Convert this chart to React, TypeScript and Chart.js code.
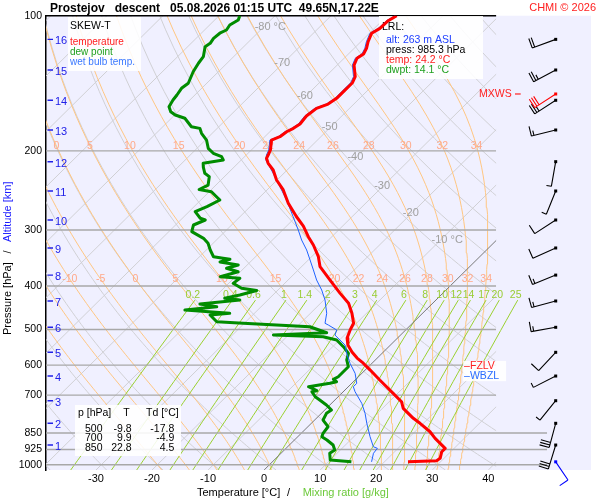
import React, { useEffect, useRef } from "react";
import { Chart, registerables } from "chart.js";

Chart.register(...registerables);

// ---------------- diagram constants ----------------
const FONT = "'Liberation Sans', Arial, Helvetica, sans-serif";
const P_MIN = 100;
const P_MAX = 1027.5;
const SKEW = 81; // degC of shift per decade of pressure
const X_MIN = -38.92;
const X_MAX = 58.33;
const X_RIGHT_EDGE = 41.4; // right boundary of the skewed diagram (degC at bottom)
const X_RIGHT_LOW = 50.5; // longer pressure lines near the ground

const PRESSURE_TICKS = [100, 200, 300, 400, 500, 600, 700, 850, 925, 1000];
const LONG_PRESSURE_LINES = [850, 925, 1000];
const TEMP_TICKS = [-30, -20, -10, 0, 10, 20, 30, 40];

const ISOTHERMS = [-120, -110, -100, -90, -80, -70, -60, -50, -40, -30, -20, -10, 0, 10, 20, 30, 40];
const ISOTHERM_LABEL_T = [-80, -70, -60, -50, -40, -30, -20, -10];
const ISOTHERM_LABEL_P = [106.0, 127.5, 151.0, 177.0, 206.4, 239.5, 275.1, 316.0];
const DRY_ADIABATS = [-40, -30, -20, -10, 0, 10, 20, 30, 40, 50, 60, 70, 80, 90, 100, 110, 120, 130, 140, 150, 160, 170];
const MOIST_ADIABATS = [-20, -15, -10, -5, 0, 5, 10, 15, 20, 22, 24, 26, 28, 30, 32, 34];
const MOIST_LABELS_UPPER = [0, 5, 10, 15, 20, 22, 24, 26, 28, 30, 32, 34];
const MOIST_LABELS_LOWER = [-10, -5, 0, 5, 10, 15, 20, 22, 24, 26, 28, 30, 32, 34];
const MOIST_LABEL_P_UPPER = 195;
const MOIST_LABEL_P_LOWER = 386;
const MIXING_RATIOS = [0.2, 0.4, 0.6, 1, 1.4, 2, 3, 4, 6, 8, 10, 12, 14, 17, 20, 25];
const MIXING_TOP_P = 430;
const MIXING_LABEL_P = 418;

// ---------------- sounding data ----------------
const TEMP_P = [100, 102.6, 106.7, 109.4, 114.3, 118.2, 121.7, 124.4, 128.8, 136.7, 141.0, 147.6, 152.8, 157.3, 160.8, 167.3, 174.3, 178.2, 181.3, 186.0, 189.2, 199.1, 204.3, 207.8, 213.2, 220.6, 232.2, 244.4, 261.7, 280.4, 294.1, 310.6, 324.1, 344.1, 362.2, 387.9, 415.3, 437.0, 460.0, 484.2, 501.2, 522.2, 541.3, 561.1, 578.7, 590.7, 615.5, 647.7, 664.5, 693.4, 723.9, 748.9, 788.3, 808.7, 844.4, 873.4, 919.4, 935.5, 967.7, 979.7, 985.3];
const TEMP_T = [-58.3, -58.9, -59.0, -59.6, -58.7, -57.8, -57.3, -57.7, -57.0, -54.7, -54.1, -54.1, -54.1, -54.6, -55.9, -56.3, -56.0, -56.4, -57.0, -57.3, -58.2, -56.6, -56.1, -55.8, -54.6, -52.5, -50.1, -47.1, -43.8, -39.9, -37.0, -34.2, -31.8, -28.8, -26.7, -22.5, -18.3, -15.0, -12.6, -10.5, -9.9, -9.0, -7.6, -5.6, -3.6, -2.0, 0.9, 4.4, 6.2, 9.2, 12.2, 13.7, 17.3, 19.4, 22.7, 24.8, 28.4, 28.4, 29.3, 29.1, 24.2];

const WB_P = [100, 102.6, 106.7, 109.4, 114.3, 118.2, 121.7, 124.4, 128.8, 136.7, 141.0, 147.6, 152.8, 157.3, 160.8, 167.3, 174.3, 178.2, 181.3, 186.0, 189.2, 199.1, 204.3, 209.6, 224.4, 240.3, 257.3, 280.4, 300.1, 315.9, 332.5, 349.9, 368.3, 387.9, 408.2, 429.7, 460.0, 484.2, 488.5, 501.2, 514.3, 527.7, 541.3, 564.9, 594.7, 625.9, 658.8, 670.4, 687.7, 730.0, 768.5, 808.7, 866.3, 912.0, 919.4, 943.2, 985.3];
const WB_T = [-58.6, -59.2, -59.3, -59.9, -59.0, -58.1, -57.6, -58.0, -57.3, -55.0, -54.4, -54.4, -54.4, -54.9, -56.2, -56.6, -56.3, -56.7, -57.3, -57.6, -58.5, -56.9, -56.4, -55.6, -51.9, -48.3, -44.7, -40.5, -37.2, -34.8, -32.1, -29.7, -27.3, -24.9, -22.2, -19.8, -17.1, -15.6, -14.7, -12.3, -11.7, -9.9, -8.1, -6.3, -3.9, -1.2, 0.9, 0.9, 2.1, 5.4, 7.8, 9.9, 12.9, 15.3, 16.3, 16.5, 17.7];

const DEW_P = [100, 102.2, 104.9, 107.6, 109.4, 112.3, 115.2, 117.2, 123.4, 127.6, 133.3, 141.4, 145.1, 150.2, 154.1, 159.5, 163.6, 166.4, 169.2, 176.7, 178.2, 182.8, 189.2, 197.4, 202.5, 206.1, 209.6, 213.2, 217.3, 224.4, 228.3, 238.3, 243.8, 246.6, 253.0, 257.3, 266.3, 273.2, 282.6, 285.1, 292.5, 302.7, 313.2, 321.3, 332.5, 344.2, 347.0, 348.8, 353.6, 359.1, 365.2, 371.7, 381.3, 384.5, 394.5, 404.7, 409.3, 418.9, 426.0, 429.7, 438.6, 444.8, 452.3, 460.1, 464.1, 480.3, 484.3, 492.8, 508.2, 514.2, 518.7, 527.6, 546.0, 564.8, 584.5, 605.0, 620.7, 636.8, 645.4, 653.4, 658.8, 670.3, 684.2, 687.8, 705.6, 717.7, 736.3, 755.4, 768.3, 795.2, 823.0, 851.3, 866.3, 881.0, 903.9, 927.4, 943.2, 976.2, 985.3];
const DEW_T = [-86.3, -85.8, -86.4, -86.1, -86.7, -86.9, -86.6, -86.9, -85.4, -85.1, -84.5, -83.3, -83.6, -83.2, -83.0, -82.5, -81.3, -79.9, -77.6, -74.9, -73.1, -71.9, -69.8, -68.0, -66.2, -64.1, -63.2, -66.2, -65.5, -64.1, -62.7, -61.4, -62.2, -59.6, -57.8, -56.6, -57.7, -58.9, -56.8, -55.6, -56.8, -55.9, -52.6, -50.9, -49.3, -47.5, -45.5, -44.1, -45.4, -41.6, -43.1, -40.4, -42.7, -38.9, -39.2, -36.8, -33.7, -35.9, -38.0, -35.0, -41.4, -37.9, -43.0, -34.4, -37.6, -35.2, -30.2, -17.7, -13.6, -22.7, -13.5, -10.5, -8.1, -6.0, -5.1, -3.6, -3.6, -3.6, -4.0, -3.0, -3.9, -7.1, -4.9, -5.6, -4.1, -2.7, -0.6, 1.2, 0.9, 1.5, 3.6, 3.9, 4.3, 5.8, 7.8, 9.0, 8.7, 10.0, 14.1];

// altitude marks (km) and winds at those levels
const ALT_KM = [16, 15, 14, 13, 12, 11, 10, 9, 8, 7, 6, 5, 4, 3, 2, 1];
const ALT_P = [112.9, 132.1, 154.3, 179.7, 211.4, 245.7, 285.1, 329.1, 378.2, 431.9, 494.3, 561.9, 634.6, 720.2, 808.7, 904.0];
const WIND_DIR = [250, 242, 237, 256, 190, 202, 237, 246, 248, 255, 260, 223, 243, 219, 195, 197];
const WIND_SPD = [20, 25, 25, 15, 5, 5, 10, 10, 15, 15, 15, 10, 5, 5, 30, 30];
const MXWS_P = 149.4;
const MXWS_DIR = 237;
const MXWS_SPD = 30;
const SFC_P = 985.3;
const SFC_DIR = 146;
const SFC_SPD = 10;

const FZLV_P = 604;
const WBZL_P = 635;

const TABLE_P = ["500", "700", "850"];
const TABLE_T = ["-9.8", "9.9", "22.8"];
const TABLE_TD = ["-17.8", "-4.9", "4.5"];

const LRL_LINES = ["alt: 263 m ASL", "press: 985.3 hPa", "temp: 24.2 °C", "dwpt: 14.1 °C"];

// ---------------- colors ----------------
const BG = "#f0f0ff";
const GREY_LINE = "#d0d0d4";
const ZERO_LINE = "#787878";
const PRESSURE_LINE = "#a8a8a8";
const MOIST_LINE = "#ffc682";
const MOIST_LABEL = "#ffa98a";
const MIX_LINE = "#9ad030";
const MIX_LABEL = "#99cc33";
const ISO_LABEL = "#a0a0a0";
const RED = "#ff0000";
const GREEN = "#008c00";
const BLUE = "#1f63ff";
const ALT_BLUE = "#2020e8";

// ---------------- thermodynamics helpers ----------------
type Pt = { x: number; y: number };
const skewX = (t: number, p: number) => t + SKEW * Math.log10(P_MAX / p);

function pressureLevels(step: number): number[] {
  const out: number[] = [];
  for (let p = P_MAX; p > P_MIN; p -= step) out.push(p);
  out.push(P_MIN);
  return out;
}

function dryAdiabat(thetaC: number): Pt[] {
  return pressureLevels(10).map((p) => ({
    x: skewX((thetaC + 273.15) * Math.pow(p / 1000, 0.2857) - 273.15, p),
    y: p,
  }));
}

function moistGradient(tc: number, p: number): number {
  const Rd = 287.04, Cp = 1005.7, Lv = 2.501e6, eps = 0.622;
  const tk = tc + 273.15;
  const es = 6.112 * Math.exp((17.67 * tc) / (tc + 243.5));
  const rs = (eps * es) / (p - es);
  return ((Rd * tk + Lv * rs) / p) / (Cp + (Lv * Lv * rs * eps) / (Rd * tk * tk));
}

function rk4(t: number, p: number, dp: number): number {
  const k1 = moistGradient(t, p);
  const k2 = moistGradient(t + (dp / 2) * k1, p + dp / 2);
  const k3 = moistGradient(t + (dp / 2) * k2, p + dp / 2);
  const k4 = moistGradient(t + dp * k3, p + dp);
  return t + (dp / 6) * (k1 + 2 * k2 + 2 * k3 + k4);
}

function moistAdiabat(thw: number): Pt[] {
  let t = thw;
  let p = 1000;
  const n = 10;
  const d0 = (P_MAX - 1000) / n;
  for (let i = 0; i < n; i++) {
    t = rk4(t, p, d0);
    p += d0;
  }
  const pts: Pt[] = [{ x: skewX(t, p), y: p }];
  let i = 0;
  while (p > P_MIN + 1e-9) {
    const d = Math.max(-2.5, P_MIN - p);
    t = rk4(t, p, d);
    p += d;
    i++;
    if (i % 4 === 0 || p <= P_MIN + 1e-9) pts.push({ x: skewX(t, p), y: p });
  }
  return pts;
}

function xAtPressure(pts: Pt[], p: number): number {
  for (let i = 1; i < pts.length; i++) {
    const a = pts[i - 1], b = pts[i];
    if ((a.y - p) * (b.y - p) <= 0) {
      const la = Math.log(a.y), lb = Math.log(b.y), lp = Math.log(p);
      const f = lb === la ? 0 : (lp - la) / (lb - la);
      return a.x + f * (b.x - a.x);
    }
  }
  return NaN;
}

function dewFromMixing(w: number, p: number): number {
  const e = (p * w) / (622 + w);
  const l = Math.log(e / 6.112);
  return (243.5 * l) / (17.67 - l);
}

function mixingLine(w: number): Pt[] {
  const out: Pt[] = [];
  for (let p = P_MAX; p > MIXING_TOP_P; p -= 25) out.push({ x: skewX(dewFromMixing(w, p), p), y: p });
  out.push({ x: skewX(dewFromMixing(w, MIXING_TOP_P), MIXING_TOP_P), y: MIXING_TOP_P });
  return out;
}

const profile = (ps: number[], ts: number[]): Pt[] => ps.map((p, i) => ({ x: skewX(ts[i], p), y: p }));

const MOIST_CURVES = MOIST_ADIABATS.map(moistAdiabat);

// ---------------- drawing helpers ----------------
function txt(ctx: any, s: string, x: number, y: number, color: string, size: number, align = "left", weight = "normal") {
  ctx.font = `${weight} ${size}px ${FONT}`;
  ctx.fillStyle = color;
  ctx.textAlign = align;
  ctx.textBaseline = "middle";
  ctx.fillText(s, x, y);
}

function box(ctx: any, x: number, y: number, w: number, h: number) {
  ctx.fillStyle = "rgba(255,255,255,0.88)";
  ctx.fillRect(x, y, w, h);
}

function drawBarb(ctx: any, x: number, y: number, dir: number, spd: number, color: string, len = 25) {
  const a = (dir * Math.PI) / 180;
  const ux = Math.sin(a), uy = -Math.cos(a);
  const ex = x + ux * len, ey = y + uy * len;
  const px = -uy, py = ux;
  ctx.strokeStyle = color;
  ctx.fillStyle = color;
  ctx.lineWidth = 1.1;
  ctx.beginPath();
  ctx.moveTo(x, y);
  ctx.lineTo(ex, ey);
  let s = Math.round(spd / 5) * 5;
  let pos = 0;
  while (s >= 10) {
    const bx = ex - ux * pos, by = ey - uy * pos;
    ctx.moveTo(bx, by);
    ctx.lineTo(bx + px * 10, by + py * 10);
    pos += 2.6;
    s -= 10;
  }
  if (s >= 5) {
    const bx = ex - ux * pos, by = ey - uy * pos;
    ctx.moveTo(bx, by);
    ctx.lineTo(bx + px * 5, by + py * 5);
  }
  ctx.stroke();
  ctx.fillRect(x - 1.5, y - 1.5, 3, 3);
}

let DEW_INDEX = -1;

function drawUnderlay(chart: any) {
  const { ctx, chartArea: a, scales } = chart;
  const X = (v: number) => scales.x.getPixelForValue(v);
  const Y = (p: number) => scales.y.getPixelForValue(p);
  const rightEdge = X(X_RIGHT_EDGE);
  ctx.save();
  ctx.beginPath();
  ctx.rect(a.left, a.top, a.right - a.left, a.bottom - a.top);
  ctx.clip();

  // isotherm labels
  ISOTHERM_LABEL_T.forEach((t, i) => {
    const p = ISOTHERM_LABEL_P[i];
    const x = X(skewX(t, p)) - 1;
    const y = Y(p);
    txt(ctx, String(t), x, y, ISO_LABEL, 11, "center");
    if (i === 0 || i === ISOTHERM_LABEL_T.length - 1) {
      const w = ctx.measureText(String(t)).width;
      txt(ctx, " °C", x + w / 2, y, ISO_LABEL, 11, "left");
    }
  });

  // moist adiabat labels
  const maLabel = (vals: number[], p: number) => {
    vals.forEach((v) => {
      const idx = MOIST_ADIABATS.indexOf(v);
      if (idx < 0) return;
      const x = X(xAtPressure(MOIST_CURVES[idx], p));
      if (x > a.left + 4 && x < rightEdge - 3) txt(ctx, String(v), x, Y(p), MOIST_LABEL, 10.5, "center");
    });
  };
  maLabel(MOIST_LABELS_UPPER, MOIST_LABEL_P_UPPER);
  maLabel(MOIST_LABELS_LOWER, MOIST_LABEL_P_LOWER);

  // mixing ratio labels
  MIXING_RATIOS.forEach((w) => {
    const x = X(skewX(dewFromMixing(w, MIXING_TOP_P), MIXING_TOP_P)) - 2;
    txt(ctx, String(w), x, Y(MIXING_LABEL_P), MIX_LABEL, 10.5, "center");
  });

  // altitude marks
  ALT_KM.forEach((km, i) => {
    const y = Y(ALT_P[i]);
    ctx.strokeStyle = ALT_BLUE;
    ctx.lineWidth = 1.4;
    ctx.beginPath();
    ctx.moveTo(a.left + 1.5, y);
    ctx.lineTo(a.left + 7, y);
    ctx.stroke();
    txt(ctx, String(km), a.left + 9, y + 2, ALT_BLUE, 11, "left");
  });

  // legend box
  const lx = a.left + 22, ly = a.top + 1.3;
  box(ctx, lx, ly, 73, 54);
  txt(ctx, "SKEW-T", lx + 2, ly + 9.5, "#000", 10.5);
  txt(ctx, "temperature", lx + 2, ly + 25.5, "#ff2020", 10);
  txt(ctx, "dew point", lx + 2, ly + 35.3, "#1fa01f", 10);
  txt(ctx, "wet bulb temp.", lx + 2, ly + 45, "#3a78ff", 10);

  // LRL box
  const bx = a.left + 333, by = a.top + 0.3;
  box(ctx, bx, by, 104, 63);
  txt(ctx, "LRL:", bx + 3, by + 11, "#000", 10.5);
  const lrlColors = ["#2040ff", "#000", "#ff2020", "#1fa01f"];
  LRL_LINES.forEach((s, i) => txt(ctx, s, bx + 7, by + 24 + i * 10, lrlColors[i], 10.5));

  // table box
  const tx = a.left + 29, ty = 405;
  box(ctx, tx, ty, 106, 51);
  txt(ctx, "p [hPa]", tx + 3, ty + 8.5, "#000", 10.5);
  txt(ctx, "T", tx + 51.5, ty + 8.5, "#000", 10.5, "center");
  txt(ctx, "Td [°C]", tx + 71, ty + 8.5, "#000", 10.5);
  TABLE_P.forEach((p, i) => {
    const y = ty + 23.7 + i * 9.8;
    txt(ctx, p, tx + 27.5, y, "#000", 10.5, "right");
    txt(ctx, TABLE_T[i], tx + 56.7, y, "#000", 10.5, "right");
    txt(ctx, TABLE_TD[i], tx + 99.3, y, "#000", 10.5, "right");
  });

  ctx.restore();

  // freezing / wet bulb zero level labels
  const fy = Y(FZLV_P), wy = Y(WBZL_P);
  const fx = X(X_RIGHT_EDGE) - 32;
  box(ctx, fx - 1, fy - 5.5, 43, wy - fy + 10.5);
  txt(ctx, "–FZLV", fx, fy, "#ff2020", 10.5);
  txt(ctx, "–WBZL", fx, wy, "#2a6cff", 10.5);
}

function drawOverlay(chart: any) {
  const { ctx, chartArea: a, scales } = chart;
  const Y = (p: number) => scales.y.getPixelForValue(p);
  const barbX = a.right - 35.3;
  ctx.save();
  ALT_P.forEach((p, i) => drawBarb(ctx, barbX, Y(p), WIND_DIR[i], WIND_SPD[i], "#000"));
  drawBarb(ctx, barbX, Y(MXWS_P), MXWS_DIR, MXWS_SPD, "#ff0000");
  drawBarb(ctx, barbX, Y(SFC_P), SFC_DIR, SFC_SPD, "#0000ff", 22);
  // MXWS label
  const my = Y(MXWS_P);
  txt(ctx, "MXWS", barbX - 44, my, "#ff2020", 10.5, "right");
  ctx.strokeStyle = "#ff2020";
  ctx.lineWidth = 1.2;
  ctx.beginPath();
  ctx.moveTo(barbX - 40.7, my);
  ctx.lineTo(barbX - 35, my);
  ctx.stroke();
  ctx.restore();
}

function drawTitles(chart: any) {
  const { ctx } = chart;
  ctx.save();
  ctx.font = `bold 12px ${FONT}`;
  ctx.fillStyle = "#000";
  ctx.textAlign = "left";
  ctx.textBaseline = "alphabetic";
  ctx.fillText("Prostejov   descent   05.08.2026 01:15 UTC  49.65N,17.22E", 50, 11.8);
  ctx.font = `11px ${FONT}`;
  ctx.fillStyle = "#ff2020";
  ctx.textAlign = "right";
  ctx.fillText("CHMI © 2026", 596, 11);

  // x title
  txt(ctx, "Temperature [°C]", 197, 493.3, "#000", 11);
  txt(ctx, "/", 288.5, 493.3, "#000", 11, "center");
  txt(ctx, "Mixing ratio [g/kg]", 302.7, 493.3, "#6cc93a", 11);

  // y title
  const vtxt = (s: string, y: number, color: string, align: string) => {
    ctx.save();
    ctx.translate(8, y);
    ctx.rotate(-Math.PI / 2);
    txt(ctx, s, 0, 0, color, 11, align);
    ctx.restore();
  };
  vtxt("Pressure [hPa]", 335, "#000", "left");
  vtxt("/", 252, "#000", "center");
  vtxt("Altitude [km]", 242, "#1a1aff", "left");
  ctx.restore();
}

const overlayPlugin = {
  id: "skewtOverlay",
  beforeDraw(chart: any) {
    const { ctx, chartArea: a } = chart;
    ctx.save();
    ctx.fillStyle = BG;
    ctx.fillRect(a.left, a.top, a.right - a.left, a.bottom - a.top);
    ctx.restore();
  },
  beforeDatasetDraw(chart: any, args: any) {
    if (args.index === DEW_INDEX) drawUnderlay(chart);
  },
  afterDatasetsDraw(chart: any) {
    drawOverlay(chart);
  },
  afterDraw(chart: any) {
    drawTitles(chart);
  },
};

function buildDatasets() {
  const ds: any[] = [];
  const bg = (data: Pt[], color: string, width: number, order: number, clipRight: number, clipTop = 0) => ({
    data,
    borderColor: color,
    borderWidth: width,
    pointRadius: 0,
    fill: false,
    tension: 0,
    order,
    clip: { left: 0, top: clipTop, right: clipRight, bottom: 0 },
  });
  const edgeClip = -(X_MAX - X_RIGHT_EDGE) * 5.604;
  const lowClip = -(X_MAX - X_RIGHT_LOW) * 5.604;

  ISOTHERMS.forEach((t) => {
    if (t === 0) return;
    ds.push(bg([{ x: skewX(t, P_MAX), y: P_MAX }, { x: skewX(t, P_MIN), y: P_MIN }], GREY_LINE, 1, 13, edgeClip));
  });
  DRY_ADIABATS.forEach((th) => ds.push(bg(dryAdiabat(th), GREY_LINE, 1, 13, edgeClip)));
  MOIST_CURVES.forEach((c) => ds.push(bg(c, MOIST_LINE, 1, 12, edgeClip)));
  MIXING_RATIOS.forEach((w) => ds.push(bg(mixingLine(w), MIX_LINE, 1, 11, 0)));
  ds.push(bg([{ x: skewX(0, P_MAX), y: P_MAX }, { x: skewX(0, P_MIN), y: P_MIN }], ZERO_LINE, 1, 10.5, edgeClip));
  PRESSURE_TICKS.forEach((p) => {
    if (p === 100) return;
    const long = LONG_PRESSURE_LINES.indexOf(p) >= 0;
    ds.push(
      bg(
        [{ x: X_MIN, y: p }, { x: long ? X_RIGHT_LOW : X_RIGHT_EDGE, y: p }],
        PRESSURE_LINE,
        1.4,
        10,
        long ? lowClip : edgeClip
      )
    );
  });
  ds.push(bg([{ x: X_MIN, y: 100 }, { x: X_RIGHT_EDGE, y: 100 }], "#000", 1.5, 10, 0, 2));

  const prof = (data: Pt[], color: string, width: number, order: number) => ({
    data,
    borderColor: color,
    borderWidth: width,
    pointRadius: 0,
    fill: false,
    tension: 0,
    order,
    borderJoinStyle: "round",
  });
  DEW_INDEX = ds.length;
  ds.push(prof(profile(DEW_P, DEW_T), GREEN, 3, 2));
  ds.push(prof(profile(WB_P, WB_T), BLUE, 1, 1));
  ds.push(prof(profile(TEMP_P, TEMP_T), RED, 3, 0));
  return ds;
}

export default function App() {
  const ref = useRef<HTMLCanvasElement | null>(null);
  useEffect(() => {
    if (!ref.current) return;
    const chart = new Chart(ref.current, {
      type: "line",
      data: { datasets: buildDatasets() },
      options: {
        animation: false,
        responsive: false,
        events: [],
        layout: { padding: { left: 0, top: 15.7, right: 9, bottom: 0 } },
        plugins: { legend: { display: false }, tooltip: { enabled: false }, title: { display: false } },
        scales: {
          x: {
            type: "linear",
            min: X_MIN,
            max: X_MAX,
            grid: { display: false, drawTicks: false },
            border: { display: false },
            ticks: {
              color: "#000",
              font: { family: FONT, size: 11 },
              padding: 2,
              autoSkip: false,
              maxRotation: 0,
              callback: (v: any) => String(v),
            },
            afterBuildTicks: (s: any) => {
              s.ticks = TEMP_TICKS.map((v) => ({ value: v }));
            },
            afterFit: (s: any) => {
              s.height = 30;
            },
          },
          y: {
            type: "logarithmic",
            reverse: true,
            min: P_MIN,
            max: P_MAX,
            z: 1,
            grid: { display: false, drawTicks: false },
            border: { display: true, color: "#000", width: 1.5 },
            ticks: {
              color: "#000",
              font: { family: FONT, size: 10.5 },
              padding: 4,
              autoSkip: false,
              callback: (v: any) => String(v),
            },
            afterBuildTicks: (s: any) => {
              s.ticks = PRESSURE_TICKS.map((v) => ({ value: v }));
            },
            afterFit: (s: any) => {
              s.width = 46;
            },
          },
        },
      } as any,
      plugins: [overlayPlugin as any],
    });
    return () => chart.destroy();
  }, []);
  return (
    <div style={{ position: "absolute", left: 0, top: 0, width: 600, height: 500, background: "#fff" }}>
      <canvas ref={ref} width={600} height={500} style={{ display: "block", width: 600, height: 500 }} />
    </div>
  );
}
